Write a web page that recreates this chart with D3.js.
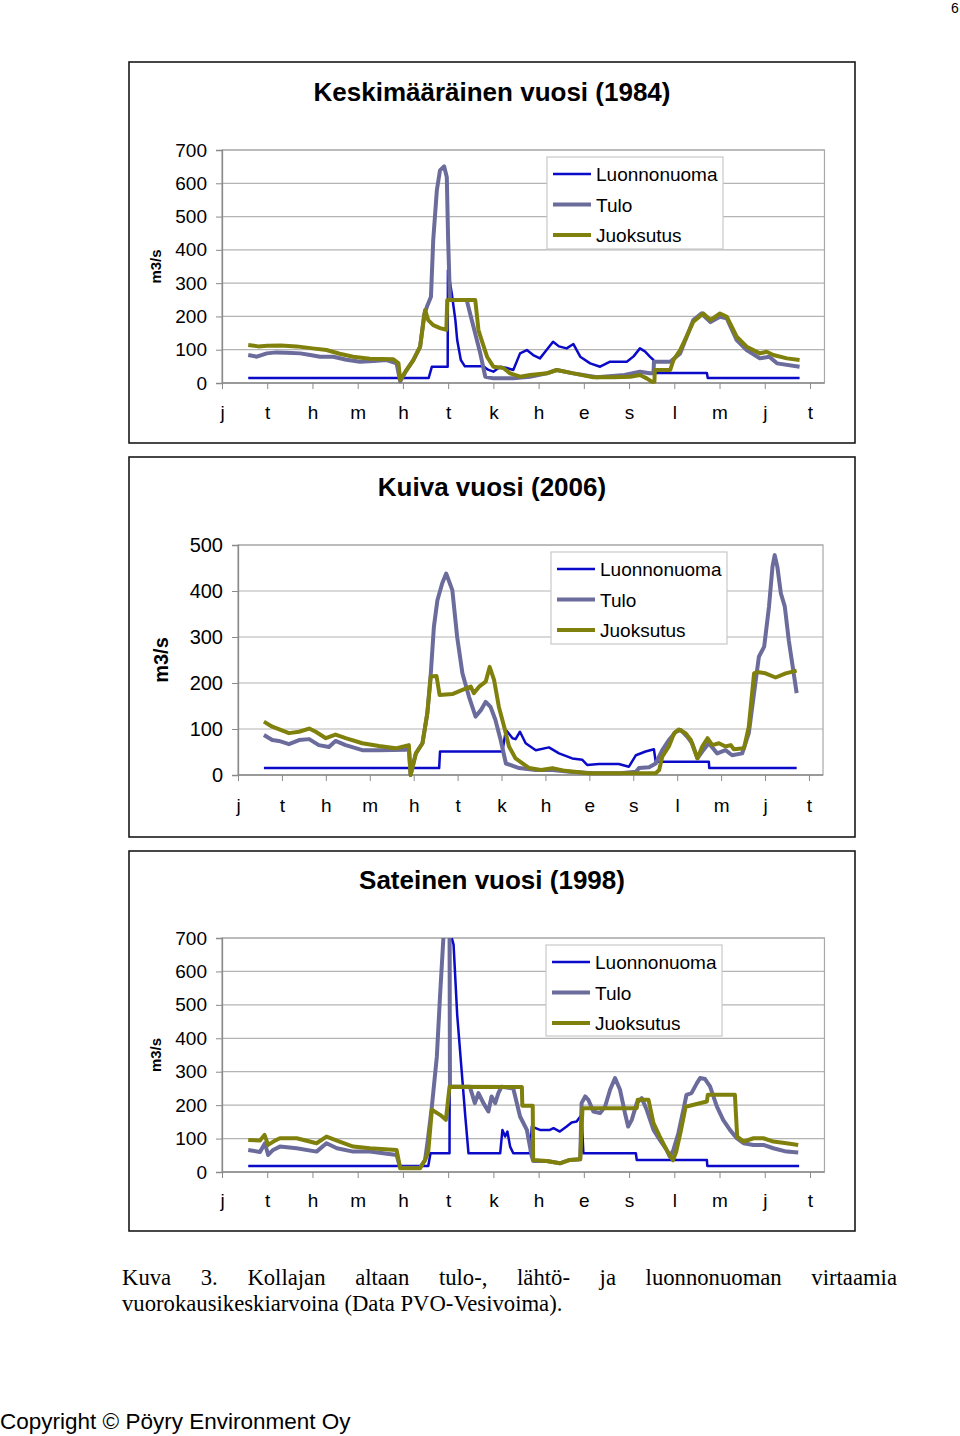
<!DOCTYPE html>
<html><head><meta charset="utf-8">
<script src="https://cdn.jsdelivr.net/npm/d3@7"></script>
<style>
html,body{margin:0;padding:0;background:#fff;}
svg{display:block;}
</style></head>
<body>
<svg id="page" width="960" height="1436"></svg>
<script>
// ---------- DATA ----------
const monthLabels = ["j","t","h","m","h","t","k","h","e","s","l","m","j","t"];
const seriesNames = ["Luonnonuoma","Tulo","Juoksutus"];
const chartTitles = ["Keskimääräinen vuosi (1984)","Kuiva vuosi (2006)","Sateinen vuosi (1998)"];
const yTicks1984 = [0,100,200,300,400,500,600,700];
const yTicks2006 = [0,100,200,300,400,500];
const yTicks1998 = [0,100,200,300,400,500,600,700];

// [month position, m3/s]
const luonnonuoma1984 = [[0.58,15],[4.57,15],[4.64,49],[4.99,49],[4.995,339],[5.08,269],[5.16,189],[5.20,129],[5.28,69],[5.37,50],[5.78,50],[5.88,40],[6.0,34],[6.15,49],[6.3,45],[6.44,39],[6.59,89],[6.74,99],[6.88,84],[7.03,74],[7.18,100],[7.32,124],[7.45,110],[7.62,104],[7.77,117],[7.92,79],[8.14,59],[8.36,49],[8.58,64],[8.95,64],[9.1,80],[9.24,104],[9.35,95],[9.46,79],[9.54,69],[9.55,30],[10.72,30],[10.74,15],[12.77,15]];
const tulo1984 = [[0.58,84],[0.77,79],[0.99,89],[1.2,92],[1.43,91],[1.73,89],[1.95,84],[2.17,79],[2.46,79],[2.75,70],[3.05,64],[3.35,66],[3.64,69],[3.86,59],[3.94,5],[4.08,39],[4.23,69],[4.38,109],[4.47,205],[4.53,229],[4.62,259],[4.67,429],[4.75,579],[4.82,639],[4.91,651],[4.97,619],[5.0,429],[5.04,249],[5.41,249],[5.56,169],[5.71,89],[5.82,19],[6.0,14],[6.44,14],[6.81,19],[7.18,29],[7.4,39],[7.77,29],[8.29,17],[8.9,24],[9.24,34],[9.46,29],[9.54,29],[9.55,64],[9.91,64],[10.13,89],[10.42,189],[10.6,209],[10.8,183],[11.01,199],[11.16,194],[11.38,129],[11.6,99],[11.89,74],[12.1,79],[12.27,59],[12.77,49]];
const juoksutus1984 = [[0.58,114],[0.8,110],[1.0,112],[1.3,113],[1.65,110],[2.0,104],[2.31,99],[2.6,88],[2.9,79],[3.27,73],[3.79,71],[3.90,60],[3.94,9],[4.08,39],[4.23,69],[4.38,109],[4.49,219],[4.56,189],[4.67,174],[4.82,165],[4.96,160],[4.98,249],[5.6,249],[5.67,159],[5.74,129],[5.86,79],[6.0,49],[6.22,45],[6.37,29],[6.59,19],[6.81,24],[7.18,29],[7.4,39],[7.77,29],[8.21,17],[8.66,17],[9.03,19],[9.24,24],[9.39,14],[9.5,4],[9.56,4],[9.57,39],[9.91,39],[9.98,69],[10.13,99],[10.27,139],[10.42,184],[10.64,209],[10.8,189],[11.01,209],[11.16,199],[11.38,139],[11.6,109],[11.89,89],[12.04,94],[12.19,84],[12.49,74],[12.77,69]];

const luonnonuoma2006 = [[0.59,15],[4.58,15],[4.6,51],[6.02,51],[6.1,98],[6.25,80],[6.32,78],[6.42,94],[6.55,69],[6.78,54],[7.08,60],[7.31,47],[7.61,36],[7.84,33],[7.95,22],[8.22,24],[8.67,24],[8.9,18],[9.06,43],[9.28,51],[9.47,56],[9.51,29],[10.72,29],[10.73,15],[12.72,15]];
const tulo2006 = [[0.59,87],[0.78,76],[0.93,74],[1.16,67],[1.39,76],[1.62,78],[1.84,65],[2.07,61],[2.22,74],[2.45,65],[2.83,54],[3.21,54],[3.82,55],[3.89,58],[3.93,0],[4.05,47],[4.2,69],[4.31,134],[4.39,221],[4.46,322],[4.54,380],[4.65,417],[4.74,438],[4.88,402],[4.99,300],[5.11,221],[5.26,170],[5.41,127],[5.53,141],[5.64,159],[5.75,148],[5.86,120],[5.98,76],[6.1,25],[6.4,15],[6.78,11],[7.16,11],[7.55,7],[8.08,4],[8.7,4],[9.06,7],[9.13,15],[9.36,17],[9.51,25],[9.66,54],[9.81,76],[9.97,94],[10.08,98],[10.23,83],[10.34,69],[10.46,36],[10.57,51],[10.72,69],[10.91,47],[11.1,54],[11.25,43],[11.48,47],[11.63,91],[11.79,207],[11.86,257],[11.98,279],[12.09,366],[12.17,453],[12.22,478],[12.28,453],[12.36,395],[12.45,366],[12.54,293],[12.72,178]];
const juoksutus2006 = [[0.59,116],[0.78,105],[1.16,91],[1.39,94],[1.62,101],[1.77,94],[2.0,80],[2.22,88],[2.45,80],[2.83,69],[3.21,63],[3.59,58],[3.89,65],[3.93,0],[4.05,47],[4.2,69],[4.31,134],[4.39,214],[4.52,215],[4.59,174],[4.88,176],[5.11,185],[5.3,192],[5.37,178],[5.49,192],[5.64,203],[5.73,235],[5.83,207],[5.94,148],[6.06,105],[6.17,62],[6.32,36],[6.63,15],[6.9,11],[7.16,15],[7.45,9],[7.98,4],[8.9,4],[9.51,4],[9.59,11],[9.66,40],[9.81,62],[9.93,91],[10.04,99],[10.19,91],[10.31,76],[10.46,36],[10.57,62],[10.69,80],[10.8,65],[10.95,69],[11.1,62],[11.22,65],[11.29,56],[11.52,58],[11.63,105],[11.75,221],[11.82,224],[12.01,221],[12.24,212],[12.47,221],[12.72,227]];

const luonnonuoma1998 = [[0.58,18],[4.56,18],[4.61,56],[5.03,56],[5.04,720],[5.12,680],[5.2,470],[5.3,300],[5.38,165],[5.45,56],[6.15,56],[6.2,126],[6.26,106],[6.31,121],[6.37,76],[6.44,56],[6.81,56],[6.85,136],[7.03,126],[7.25,126],[7.33,131],[7.47,121],[7.62,136],[7.73,148],[7.84,151],[7.95,171],[7.99,56],[9.15,56],[9.17,36],[10.72,36],[10.73,18],[12.76,18]];
const tulo1998 = [[0.58,66],[0.84,60],[0.95,86],[1.02,51],[1.13,66],[1.28,76],[1.65,71],[2.09,61],[2.31,86],[2.54,71],[2.9,61],[3.27,61],[3.86,51],[3.94,13],[4.38,13],[4.49,36],[4.56,106],[4.64,196],[4.75,345],[4.82,525],[4.88,665],[4.92,760],[5.0,780],[5.03,760],[5.04,255],[5.48,255],[5.59,206],[5.67,236],[5.78,206],[5.89,181],[5.96,226],[6.04,206],[6.11,236],[6.18,255],[6.44,250],[6.59,166],[6.74,126],[6.85,46],[6.88,33],[7.18,33],[7.47,26],[7.69,36],[7.92,38],[7.95,206],[8.03,226],[8.1,216],[8.21,181],[8.36,176],[8.47,196],[8.58,246],[8.69,281],[8.8,246],[8.91,176],[8.98,136],[9.06,156],[9.17,206],[9.28,221],[9.39,186],[9.54,126],[9.68,96],[9.83,66],[9.9,46],[9.98,66],[10.09,116],[10.2,186],[10.27,231],[10.38,236],[10.5,266],[10.57,281],[10.68,278],[10.79,256],[10.94,196],[11.08,156],[11.23,126],[11.38,101],[11.53,86],[11.75,81],[11.97,81],[12.19,71],[12.48,61],[12.74,58]];
const juoksutus1998 = [[0.58,96],[0.84,94],[0.94,111],[1.02,81],[1.17,94],[1.28,101],[1.65,101],[2.09,86],[2.31,106],[2.54,94],[2.9,76],[3.27,71],[3.86,66],[3.94,11],[4.38,11],[4.49,36],[4.56,61],[4.64,186],[4.82,171],[4.95,156],[5.03,255],[6.63,254],[6.64,198],[6.87,198],[6.88,36],[7.18,33],[7.47,26],[7.69,36],[7.92,38],[7.97,191],[9.17,191],[9.19,216],[9.43,216],[9.54,146],[9.68,106],[9.83,66],[9.97,35],[10.04,60],[10.14,120],[10.25,195],[10.72,211],[10.74,231],[11.34,231],[11.39,106],[11.53,91],[11.75,101],[11.97,101],[12.19,91],[12.48,86],[12.74,81]];

const captionLine1 = ["Kuva","3.","Kollajan","altaan","tulo-,","lähtö-","ja","luonnonuoman","virtaamia"];
const captionLine2 = "vuorokausikeskiarvoina (Data PVO-Vesivoima).";
const footerText = "Copyright © Pöyry Environment Oy";
const pageNumber = "6";

// ---------- LAYOUT ----------
const colors = ["#0a0ac8","#6b6b9c","#80800c"];
const widths = [2.5,4,4];
const sans = "Arial, 'Liberation Sans', sans-serif";
const serif = "'Times New Roman', 'Liberation Serif', serif";

const charts = [
  {title:chartTitles[0], data:[luonnonuoma1984,tulo1984,juoksutus1984], ticks:yTicks1984,
   box:[129,62,855,443], titleY:101, left:222, step:45.23, top:150, bottom:383,
   legend:[547,157,176,92], lblFont:19, unitFont:15, unitX:156, xPad:17},
  {title:chartTitles[1], data:[luonnonuoma2006,tulo2006,juoksutus2006], ticks:yTicks2006,
   box:[129,457,855,837], titleY:496, left:238, step:43.92, top:545, bottom:775,
   legend:[551,552,176,92], lblFont:20, unitFont:20, unitX:161, xPad:18},
  {title:chartTitles[2], data:[luonnonuoma1998,tulo1998,juoksutus1998], ticks:yTicks1998,
   box:[129,851,855,1231], titleY:889, left:222, step:45.23, top:938, bottom:1172,
   legend:[546,945,176,91], lblFont:19, unitFont:15, unitX:156, xPad:16}
];

const svg = d3.select("#page");

charts.forEach((c, ci) => {
  const g = svg.append("g");
  const [bx0,by0,bx1,by1] = c.box;
  g.append("rect").attr("x",bx0).attr("y",by0).attr("width",bx1-bx0).attr("height",by1-by0)
    .attr("fill","#fff").attr("stroke","#1a1a1a").attr("stroke-width",1.6);
  g.append("text").attr("x",(bx0+bx1)/2).attr("y",c.titleY).attr("text-anchor","middle")
    .attr("font-family",sans).attr("font-weight","bold").attr("font-size",26).attr("fill","#000")
    .text(c.title);

  const xMax = 13.32;
  const x = d3.scaleLinear().domain([0,xMax]).range([c.left, c.left + xMax*c.step]);
  const ymax = d3.max(c.ticks);
  const y = d3.scaleLinear().domain([0,ymax]).range([c.bottom, c.top]);
  const right = x(xMax);

  // gridlines
  g.append("g").selectAll("line").data(c.ticks.filter(t=>t>0)).join("line")
    .attr("x1",c.left).attr("x2",right).attr("y1",d=>y(d)).attr("y2",d=>y(d))
    .attr("stroke","#b4b4b4").attr("stroke-width",1.2);
  // plot border
  g.append("rect").attr("x",c.left).attr("y",c.top).attr("width",right-c.left).attr("height",c.bottom-c.top)
    .attr("fill","none").attr("stroke","#a8a8a8").attr("stroke-width",1.2);

  // y axis
  const ya = d3.axisLeft(y).tickValues(c.ticks).tickSize(6).tickPadding(9).tickFormat(d3.format("d"));
  const yg = g.append("g").attr("transform",`translate(${c.left},0)`).call(ya);
  yg.select(".domain").attr("stroke","#8a8a8a").attr("stroke-width",1.3);
  yg.selectAll(".tick line").attr("stroke","#8a8a8a");
  yg.selectAll("text").attr("font-family",sans).attr("font-size",c.lblFont).attr("fill","#000");

  // x axis
  const xa = d3.axisBottom(x).tickValues(d3.range(monthLabels.length)).tickSize(6).tickPadding(c.xPad)
    .tickFormat(i=>monthLabels[i]);
  const xg = g.append("g").attr("transform",`translate(0,${c.bottom})`).call(xa);
  xg.select(".domain").attr("stroke","#8a8a8a").attr("stroke-width",1.3).attr("d",`M${c.left},0H${right}`);
  xg.selectAll(".tick line").attr("stroke","#8a8a8a");
  xg.selectAll("text").attr("font-family",sans).attr("font-size",19).attr("fill","#000");

  // unit label
  const cy = (c.top+c.bottom)/2;
  g.append("text").attr("transform",`translate(${c.unitX},${cy}) rotate(-90)`)
    .attr("text-anchor","middle").attr("dy","0.35em")
    .attr("font-family",sans).attr("font-weight","bold").attr("font-size",c.unitFont).attr("fill","#000")
    .text("m3/s");

  // clip
  const cid = "clip"+ci;
  svg.append("clipPath").attr("id",cid).append("rect")
    .attr("x",c.left).attr("y",c.top).attr("width",right-c.left).attr("height",c.bottom-c.top+3);

  // legend
  const [lx,ly,lw,lh] = c.legend;
  const lg = g.append("g");
  lg.append("rect").attr("x",lx).attr("y",ly).attr("width",lw).attr("height",lh)
    .attr("fill","#fff").attr("stroke","#c8c8c8").attr("stroke-width",1.2);
  seriesNames.forEach((n,i)=>{
    const yy = ly + 17 + i*30.5;
    lg.append("line").attr("x1",lx+6).attr("x2",lx+44).attr("y1",yy).attr("y2",yy)
      .attr("stroke",colors[i]).attr("stroke-width",widths[i]);
    lg.append("text").attr("x",lx+49).attr("y",yy+7).attr("font-family",sans).attr("font-size",19)
      .attr("fill","#000").text(n);
  });

  // lines
  const line = d3.line().x(d=>x(d[0])).y(d=>y(d[1]));
  const lines = g.append("g").attr("clip-path",`url(#${cid})`);
  c.data.forEach((s,i)=>{
    lines.append("path").datum(s).attr("d",line).attr("fill","none")
      .attr("stroke",colors[i]).attr("stroke-width",widths[i])
      .attr("stroke-linejoin","round").attr("stroke-linecap","butt");
  });
});

// caption line 1 (justified)
const capY1 = 1285, capY2 = 1311, capL = 122, capR = 897;
const cap = svg.append("g").attr("font-family",serif).attr("font-size",22.7).attr("fill","#000");
const tmp = cap.selectAll("text.w").data(captionLine1).join("text").attr("class","w").attr("y",capY1).text(d=>d);
const ws = [];
tmp.each(function(){ ws.push(this.getComputedTextLength()); });
const gap = (capR - capL - d3.sum(ws)) / (captionLine1.length - 1);
let cx = capL;
tmp.each(function(d,i){ d3.select(this).attr("x",cx); cx += ws[i] + gap; });
cap.append("text").attr("x",capL).attr("y",capY2).text(captionLine2);

// footer & page number
svg.append("text").attr("x",0).attr("y",1429).attr("font-family",sans).attr("font-size",22.5)
  .attr("fill","#000").text(footerText);
svg.append("text").attr("x",955).attr("y",13).attr("text-anchor","middle").attr("font-family",sans)
  .attr("font-size",14).attr("fill","#000").text(pageNumber);
</script>
</body></html>
